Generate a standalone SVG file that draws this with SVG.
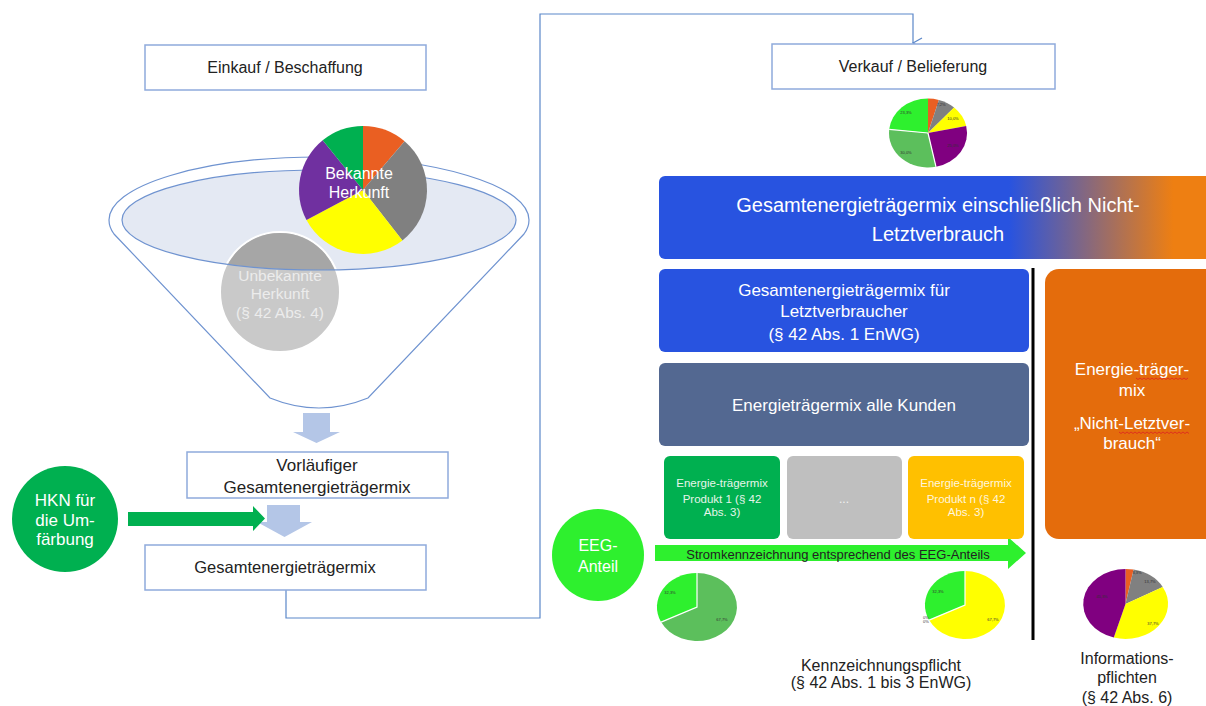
<svg xmlns="http://www.w3.org/2000/svg" width="1206" height="706" viewBox="0 0 1206 706">
<defs>
<style>
text{font-family:"Liberation Sans",Arial,sans-serif;text-anchor:middle}
.box{fill:#fff;stroke:#8faadc;stroke-width:1.5}
.dk{fill:#222}
.wt{fill:#fff}
.conn{fill:none;stroke:#5b87c9;stroke-width:1.2}
.blk{fill:#b4c6e7}
.sep{fill:none;stroke:#fff;stroke-width:1.2}
.lbl{font-size:4px;fill:#333}
.wavy{fill:none;stroke:#d22;stroke-width:0.8}
</style>
<linearGradient id="grad" x1="659" y1="0" x2="1206" y2="0" gradientUnits="userSpaceOnUse">
<stop offset="0" stop-color="#2853e0"/>
<stop offset="0.64" stop-color="#2853e0"/>
<stop offset="0.94" stop-color="#ee7f12"/>
<stop offset="1" stop-color="#ee7f12"/>
</linearGradient>
<clipPath id="ellclip"><ellipse cx="319" cy="220" rx="197" ry="50"/></clipPath>
<marker id="open" markerWidth="12" markerHeight="12" refX="6" refY="10" orient="auto" markerUnits="userSpaceOnUse" viewBox="0 0 12 12">
<path d="M1,1 L6,10 L11,1" fill="none" stroke="#5b87c9" stroke-width="1.2"/>
</marker>
</defs>
<rect width="1206" height="706" fill="#fff"/>

<g id="connectors">
<path class="conn" d="M286,590 V618 H540 V14 H913 V43" marker-end="url(#open)"/>
<path class="blk" d="M303,413 H330 V432 H340 L316.5,443 L293,432 H303 Z"/>
<path class="blk" d="M267,505 H300 V522 H312 L284.5,537 L257,522 H267 Z"/>
<path fill="#00b050" d="M128,512 H253 V506 L265,518.5 L253,531 V526 H128 Z"/>
<path fill="#2ef02e" d="M655,545 H1008 V537 L1026,553 L1008,569 V561 H655 Z"/>
<text x="838" y="558.5" font-size="13" class="dk">Stromkennzeichnung entsprechend des EEG-Anteils</text>
<line x1="1033" y1="268" x2="1033" y2="640" stroke="#000" stroke-width="3"/>
</g>

<g id="einkauf">
<rect class="box" x="145" y="45" width="281" height="45"/>
<text x="285" y="73" font-size="16" class="dk">Einkauf / Beschaffung</text>
</g>

<g id="verkauf">
<rect class="box" x="772" y="44" width="283" height="45"/>
<text x="913" y="72" font-size="16" class="dk">Verkauf / Belieferung</text>
</g>

<g id="funnel">
<path d="M109,220 A210,63 0 0 1 529,220 C529,226 527,230 524,234 L368,398 Q319,418 270,398 L114,234 C111,230 109,226 109,220 Z" fill="#fff" stroke="#6f93d0" stroke-width="1.2"/>
<ellipse cx="319" cy="220" rx="197" ry="50" fill="#e4e9f3"/>
</g>

<g id="unbekannt">
<circle cx="280" cy="292" r="60" fill="#c9c9c9" stroke="#fff" stroke-width="2"/>
<circle cx="280" cy="292" r="59" fill="#a6a6a6" clip-path="url(#ellclip)"/>
<ellipse cx="319" cy="220" rx="197" ry="50" fill="none" stroke="#6f93d0" stroke-width="1.2"/>
<text font-size="15.5" fill="#ececec"><tspan x="280" y="280.5">Unbekannte</tspan><tspan x="280" y="298.5">Herkunft</tspan><tspan x="280" y="317.5">(§ 42 Abs. 4)</tspan></text>
</g>

<g id="bekannt">
<path d="M363,190 L363,126 A64,64 0 0 1 404.6,141.3 Z" fill="#ea5f22"/>
<path d="M363,190 L404.6,141.3 A64,64 0 0 1 402.4,240.4 Z" fill="#808080"/>
<path d="M363,190 L402.4,240.4 A64,64 0 0 1 306.5,220 Z" fill="#ffff00"/>
<path d="M363,190 L306.5,220 A64,64 0 0 1 322.7,140.3 Z" fill="#7030a0"/>
<path d="M363,190 L322.7,140.3 A64,64 0 0 1 363,126 Z" fill="#00b050"/>
<text font-size="16" class="wt"><tspan x="359" y="179">Bekannte</tspan><tspan x="359" y="198">Herkunft</tspan></text>
</g>

<g id="vorlaeufig">
<rect class="box" x="187" y="452" width="261" height="46"/>
<text font-size="17" class="dk"><tspan x="317" y="471">Vorläufiger</tspan><tspan x="317" y="493">Gesamtenergieträgermix</tspan></text>
</g>

<g id="gesamt">
<rect class="box" x="145" y="545" width="281" height="45"/>
<text x="285" y="573" font-size="16.5" class="dk">Gesamtenergieträgermix</text>
</g>

<g id="hkn">
<circle cx="65" cy="519" r="53" fill="#00b050"/>
<text font-size="17" class="wt"><tspan x="65" y="506">HKN für</tspan><tspan x="65" y="526">die Um-</tspan><tspan x="65" y="545">färbung</tspan></text>
</g>

<g id="toppie">
<path d="M928,133 L928,98.5 A39,34.5 0 0 1 938.9,99.9 Z" fill="#ea5f22"/>
<path d="M928,133 L938.9,99.9 A39,34.5 0 0 1 954.1,107.4 Z" fill="#808080"/>
<path d="M928,133 L954.1,107.4 A39,34.5 0 0 1 966.2,125.9 Z" fill="#ffff00"/>
<path d="M928,133 L966.2,125.9 A39,34.5 0 0 1 936,166.8 Z" fill="#800080"/>
<path d="M928,133 L936,166.8 A39,34.5 0 0 1 889.2,129.3 Z" fill="#5cbf5c"/>
<path d="M928,133 L889.2,129.3 A39,34.5 0 0 1 928,98.5 Z" fill="#2ef02e"/>
<path class="sep" d="M928,133 L936,166.8 M928,133 L889.2,129.3"/>
<text class="lbl" x="941" y="106">7,2%</text>
<text class="lbl" x="953" y="120">10,0%</text>
<text class="lbl" x="953" y="147">25,0%</text>
<text class="lbl" x="906" y="154">30,0%</text>
<text class="lbl" x="906" y="114">23,3%</text>
</g>

<g id="gesamt-nicht">
<rect x="659" y="176" width="560" height="83" rx="6" fill="url(#grad)"/>
<text font-size="20" class="wt"><tspan x="938" y="212">Gesamtenergieträgermix einschließlich Nicht-</tspan><tspan x="938" y="241">Letztverbrauch</tspan></text>
</g>

<g id="letzt">
<rect x="659" y="269" width="370" height="83" rx="6" fill="#2853e0"/>
<text font-size="17" class="wt"><tspan x="844" y="296">Gesamtenergieträgermix für</tspan><tspan x="844" y="317">Letztverbraucher</tspan><tspan x="844" y="340">(§ 42 Abs. 1 EnWG)</tspan></text>
</g>

<g id="kunden">
<rect x="659" y="363" width="370" height="83" rx="6" fill="#536891"/>
<text x="844" y="411" font-size="17" class="wt">Energieträgermix alle Kunden</text>
</g>

<g id="produkt1">
<rect x="664" y="456" width="116" height="83" rx="6" fill="#00b050"/>
<text font-size="11.5" fill="#e6f5ea"><tspan x="722" y="487">Energie-trägermix</tspan><tspan x="722" y="503">Produkt 1 (§ 42</tspan><tspan x="722" y="516">Abs. 3)</tspan></text>
</g>

<g id="produkt-dots">
<rect x="787" y="456" width="115" height="83" rx="6" fill="#bfbfbf"/>
<text x="844" y="503" font-size="12" fill="#f2f2f2">...</text>
</g>

<g id="produktn">
<rect x="908" y="456" width="116" height="83" rx="6" fill="#ffc000"/>
<text font-size="11.5" fill="#fff6dc"><tspan x="966" y="487">Energie-trägermix</tspan><tspan x="966" y="503">Produkt n (§ 42</tspan><tspan x="966" y="516">Abs. 3)</tspan></text>
</g>

<g id="eeg">
<circle cx="598" cy="555" r="46" fill="#2ef02e"/>
<text font-size="16" class="wt"><tspan x="598" y="551">EEG-</tspan><tspan x="598" y="572">Anteil</tspan></text>
</g>

<g id="pie-left">
<path d="M697,607 L697,573 A40,34 0 1 1 661.1,622.1 Z" fill="#5cbf5c"/>
<path d="M697,607 L661.1,622.1 A40,34 0 0 1 697,573 Z" fill="#2ef02e"/>
<path class="sep" d="M697,573 L697,607 L661.1,622.1"/>
<text class="lbl" x="670" y="594">32,3%</text>
<text class="lbl" x="722" y="621">67,7%</text>
</g>

<g id="pie-right">
<path d="M965,605 L965,571 A40,34 0 1 1 929.1,620.1 Z" fill="#ffff00"/>
<path d="M965,605 L929.1,620.1 A40,34 0 0 1 965,571 Z" fill="#2ef02e"/>
<path class="sep" d="M965,571 L965,605 L929.1,620.1"/>
<text class="lbl" x="938" y="593">32,3%</text>
<text class="lbl" x="993" y="621">67,7%</text>
<text class="lbl" x="926" y="619">0%</text>
<text class="lbl" x="926" y="623">0%</text>
</g>

<g id="nicht-letzt">
<rect x="1045" y="269" width="175" height="270" rx="14" fill="#e46c0c"/>
<text font-size="17" class="wt"><tspan x="1132" y="375">Energie-träger-</tspan><tspan x="1132" y="396">mix</tspan><tspan x="1132" y="429">„Nicht-Letztver-</tspan><tspan x="1132" y="449">brauch“</tspan></text>
<path class="wavy" d="M1136,378 l2,1.5 l2,-1.5 l2,1.5 l2,-1.5 l2,1.5 l2,-1.5 l2,1.5 l2,-1.5 l2,1.5 l2,-1.5 l2,1.5 l2,-1.5 l2,1.5 l2,-1.5 l2,1.5 l2,-1.5 l2,1.5 l2,-1.5 l2,1.5 l2,-1.5 l2,1.5 l2,-1.5 l2,1.5 l2,-1.5 l2,1.5 l2,-1.5"/>
<path class="wavy" d="M1119,432 l2,1.5 l2,-1.5 l2,1.5 l2,-1.5 l2,1.5 l2,-1.5 l2,1.5 l2,-1.5 l2,1.5 l2,-1.5 l2,1.5 l2,-1.5 l2,1.5 l2,-1.5 l2,1.5 l2,-1.5 l2,1.5 l2,-1.5 l2,1.5 l2,-1.5 l2,1.5 l2,-1.5 l2,1.5 l2,-1.5 l2,1.5 l2,-1.5 l2,1.5 l2,-1.5 l2,1.5 l2,-1.5 l2,1.5 l2,-1.5 l2,1.5 l2,-1.5 l2,1.5"/>
</g>

<g id="info-pie">
<path d="M1125.5,604 L1125.5,569 A42.5,35 0 0 1 1133.6,569.6 Z" fill="#ea5f22"/>
<path d="M1125.5,604 L1133.6,569.6 A42.5,35 0 0 1 1162.7,587 Z" fill="#808080"/>
<path d="M1125.5,604 L1162.7,587 A42.5,35 0 0 1 1113.8,637.6 Z" fill="#ffff00"/>
<path d="M1125.5,604 L1113.8,637.6 A42.5,35 0 0 1 1125.5,569 Z" fill="#800080"/>
<text class="lbl" x="1137" y="574">3,3%</text>
<text class="lbl" x="1150" y="583">13,7%</text>
<text class="lbl" x="1153" y="625">37,7%</text>
<text class="lbl" x="1102" y="598">45,3%</text>
</g>

<g id="kennzeichnung">
<text font-size="16" class="dk"><tspan x="881" y="671">Kennzeichnungspflicht</tspan><tspan x="881" y="688">(§ 42 Abs. 1 bis 3 EnWG)</tspan></text>
</g>

<g id="information">
<text font-size="16" class="dk"><tspan x="1127" y="664">Informations-</tspan><tspan x="1127" y="683">pflichten</tspan><tspan x="1127" y="703">(§ 42 Abs. 6)</tspan></text>
</g>
</svg>
